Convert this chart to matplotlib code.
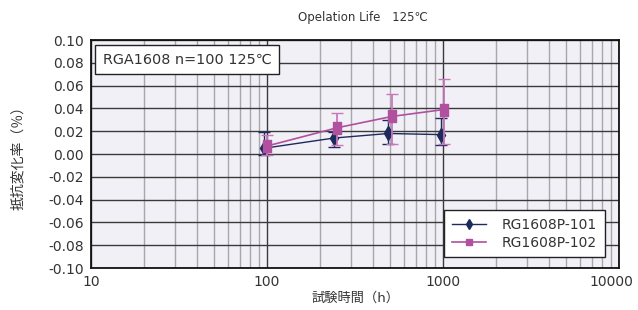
import matplotlib
matplotlib.use("Agg")
import matplotlib.pyplot as plt
import matplotlib.transforms as mtrans
from matplotlib.ticker import FixedLocator, LogLocator, NullFormatter
from matplotlib.lines import Line2D
from matplotlib.path import Path

plt.rcParams['font.family'] = ['DejaVu Sans', 'Noto Sans CJK JP']

title = "Opelation Life\u3000125℃"
xlabel = "試験時間（h）"
ylabel = "抵抗変化率（％）"
note = "RGA1608 n=100 125℃"

s1_name = "RG1608P-101"
s1_x = [96, 240, 490, 975]
s1_y = [0.005, 0.014, 0.018, 0.017]
s1_lo = [-0.001, 0.006, 0.009, 0.008]
s1_hi = [0.019, 0.019, 0.030, 0.032]

s2_name = "RG1608P-102"
s2_x = [100, 250, 515, 1010]
s2_y = [0.007, 0.023, 0.033, 0.039]
s2_lo = [-0.001, 0.008, 0.009, 0.009]
s2_hi = [0.017, 0.036, 0.053, 0.066]

yticks = [-0.10, -0.08, -0.06, -0.04, -0.02, 0.00, 0.02, 0.04, 0.06, 0.08, 0.10]
xticks = [10, 100, 1000, 10000]

c1 = "#1c2a5c"
c2 = "#b0509e"
c2e = "#c878b8"
txt = "#333333"

rect = Path([(-0.35, -0.5), (0.35, -0.5), (0.35, 0.5), (-0.35, 0.5), (-0.35, -0.5)],
            [Path.MOVETO, Path.LINETO, Path.LINETO, Path.LINETO, Path.CLOSEPOLY])

fig = plt.figure(figsize=(6.38, 3.10), dpi=100)
ax = fig.add_axes([91/638, 1-268/310, (619-91)/638, (268-40)/310])
ax.set_facecolor("#f2f0f7")
ax.set_xscale("log")
ax.set_xlim(10, 10000)
ax.set_ylim(-0.10, 0.10)

ax.xaxis.set_major_locator(FixedLocator(xticks))
ax.xaxis.set_minor_locator(LogLocator(base=10, subs=range(2, 10)))
ax.xaxis.set_minor_formatter(NullFormatter())
ax.set_xticks(xticks)
ax.set_xticklabels([str(v) for v in xticks])
ax.set_yticks(yticks)
ax.set_yticklabels([f"{v:.2f}" for v in yticks])

ax.grid(True, which="major", axis="both", color="#3a3a3a", lw=1.0)
ax.grid(True, which="minor", axis="x", color="#a8a8a8", lw=1.0)
ax.set_axisbelow(True)
ax.tick_params(which="both", length=0, labelsize=10, colors=txt, pad=5)
for sp in ax.spines.values():
    sp.set_color("#111111")
    sp.set_linewidth(1.3)

# nudge the last x tick label so it stays inside the figure
xlabels = ax.get_xticklabels()
xlabels[-1].set_transform(xlabels[-1].get_transform() +
                          mtrans.ScaledTranslation(-8/100, 0, fig.dpi_scale_trans))

e1 = [[y - l for y, l in zip(s1_y, s1_lo)], [h - y for y, h in zip(s1_y, s1_hi)]]
e2 = [[y - l for y, l in zip(s2_y, s2_lo)], [h - y for y, h in zip(s2_y, s2_hi)]]

ax.errorbar(s1_x, s1_y, yerr=e1, color=c1, ecolor=c1, elinewidth=1.0, capsize=4,
            capthick=1.0, marker="d", ms=7, lw=1.0, label=s1_name, zorder=3)
ax.errorbar(s2_x, s2_y, yerr=e2, color=c2, ecolor=c2e, elinewidth=1.3, capsize=4,
            capthick=1.0, marker=rect, ms=9, lw=1.2, label=s2_name, zorder=4)

fig.text(363/638, 1-17/310, title, fontsize=8.5, ha="center", va="center", color=txt)
ax.set_xlabel(xlabel, fontsize=9.5, labelpad=2, color=txt)
ax.set_ylabel(ylabel, fontsize=10, labelpad=17, color=txt)

ax.text(0.022, 0.945, note, transform=ax.transAxes, fontsize=10.4, va="top", ha="left",
        color=txt,
        bbox=dict(boxstyle="square,pad=0.55", fc="white", ec="#222222", lw=1.0))

handles = [Line2D([], [], color=c1, marker="d", ms=5, lw=1.0),
           Line2D([], [], color=c2, marker="s", ms=5, lw=1.2)]
leg = ax.legend(handles, [s1_name, s2_name], loc="lower right", bbox_to_anchor=(0.978, 0.035),
                fontsize=10, frameon=True, fancybox=False, edgecolor="#222222",
                framealpha=1, borderpad=0.55, handlelength=2.5, labelspacing=0.25,
                handletextpad=1.1, borderaxespad=0.2)
leg.get_frame().set_linewidth(1.0)
for t in leg.get_texts():
    t.set_color(txt)

fig.savefig("out.png", dpi=100)
